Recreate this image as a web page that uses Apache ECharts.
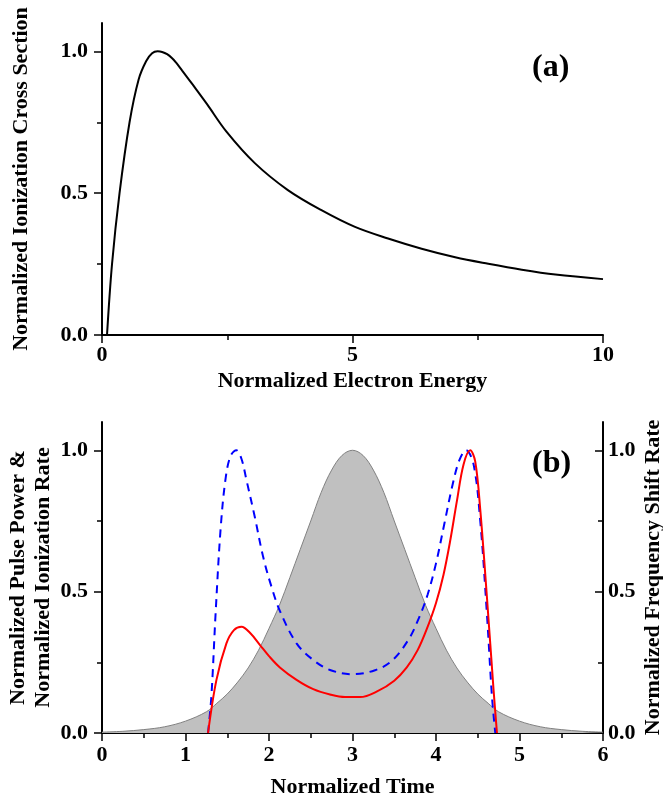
<!DOCTYPE html>
<html>
<head>
<meta charset="utf-8">
<script src="https://cdn.jsdelivr.net/npm/echarts@6/dist/echarts.min.js"></script>
<style>
html, body { margin: 0; padding: 0; background: #fff; }
#main { width: 663px; height: 802px; }
</style>
</head>
<body>
<div id="main"></div>
<script>
// (a) 归一化电离截面 —— 点
var energy = [0.1, 0.2, 0.35, 0.55, 0.73, 0.88, 1.0, 1.11, 1.2, 1.3, 1.4, 1.48, 1.6, 1.75, 1.88, 2.1, 2.48, 3.05, 3.71, 4.38, 5.05, 5.71, 6.38, 7.05, 7.71, 8.38, 9.05, 10];
var crossSection = [0, 0.25, 0.5, 0.75, 0.9, 0.965, 0.993, 1.0, 0.998, 0.99, 0.976, 0.96, 0.932, 0.897, 0.866, 0.813, 0.718, 0.606, 0.511, 0.44, 0.381, 0.34, 0.304, 0.274, 0.251, 0.23, 0.213, 0.197];

// (b) 脉冲功率（灰色面积）
var timePulse = [0, 0.25, 0.5, 0.75, 1, 1.25, 1.375, 1.5, 1.625, 1.75, 1.875, 2, 2.125, 2.25, 2.375, 2.5, 2.625, 2.75, 2.875, 3,
                 3.125, 3.25, 3.375, 3.5, 3.625, 3.75, 3.875, 4, 4.125, 4.25, 4.375, 4.5, 4.625, 4.75, 5, 5.25, 5.5, 5.75, 6];
var pulsePower = [0.003, 0.006, 0.012, 0.022, 0.042, 0.075, 0.105, 0.138, 0.18, 0.23, 0.293, 0.37, 0.452, 0.55, 0.65, 0.75, 0.851, 0.93, 0.982, 1.0,
                  0.982, 0.93, 0.851, 0.75, 0.65, 0.55, 0.452, 0.37, 0.293, 0.23, 0.18, 0.138, 0.105, 0.075, 0.042, 0.022, 0.012, 0.006, 0.003];

// 电离速率（红色实线，左轴）
var timeIon = [1.27, 1.37, 1.49, 1.58, 1.67, 1.78, 1.89, 2.0, 2.13, 2.33, 2.53, 2.73, 2.91, 3.09, 3.3, 3.5, 3.65, 3.78, 3.89, 4.0, 4.09, 4.17, 4.25, 4.33, 4.41, 4.47, 4.53, 4.61, 4.69, 4.73];
var ionRate = [0, 0.187, 0.317, 0.364, 0.376, 0.352, 0.312, 0.272, 0.232, 0.188, 0.155, 0.136, 0.127, 0.127, 0.148, 0.185, 0.232, 0.293, 0.368, 0.46, 0.56, 0.68, 0.82, 0.95, 1.0, 0.96, 0.79, 0.48, 0.15, 0];

// 频移速率（蓝色虚线，右轴）
var timeShift = [1.27, 1.31, 1.36, 1.42, 1.48, 1.54, 1.61, 1.67, 1.73, 1.83, 1.93, 2.03, 2.13, 2.33, 2.53, 2.73, 3.0, 3.27, 3.47, 3.67, 3.8, 3.9, 4.0, 4.1, 4.2, 4.28, 4.36, 4.45, 4.53, 4.61, 4.67, 4.71];
var shiftRate = [0, 0.13, 0.42, 0.72, 0.9, 0.98, 1.0, 0.97, 0.895, 0.764, 0.623, 0.517, 0.432, 0.317, 0.258, 0.223, 0.208, 0.222, 0.255, 0.33, 0.41, 0.49, 0.6, 0.74, 0.88, 0.965, 1.0, 0.95, 0.75, 0.42, 0.13, 0];

var yMajor = [0, 0.5, 1.0];
var yMinor = [0.25, 0.75];

function pairs(xs, ys) {
    return xs.map(function (x, i) { return [x, ys[i]]; });
}

var FONT = '"Liberation Serif", "Times New Roman", serif';
var black = { color: '#000', width: 2 };

function labelStyle(extra) {
    var s = { color: '#000', fontFamily: FONT, fontWeight: 'bold', fontSize: 22 };
    for (var k in extra) s[k] = extra[k];
    return s;
}

function xAxis(grid, max, interval, name, gap, margin) {
    return {
        gridIndex: grid, type: 'value', min: 0, max: max, interval: interval,
        axisLine: { lineStyle: black },
        axisTick: { length: 8, lineStyle: { color: '#000', width: 1.5 } },
        minorTick: { show: true, splitNumber: 2, length: 5, lineStyle: { color: '#000', width: 1.5 } },
        splitLine: { show: false },
        axisLabel: labelStyle({ margin: margin }),
        name: name, nameLocation: 'middle', nameGap: gap, nameMoveOverlap: false,
        nameTextStyle: labelStyle({})
    };
}

function yMain(grid, pos, name, gap, inside, margin) {
    return {
        gridIndex: grid, type: 'value', position: pos, min: 0, max: 1.1,
        axisLine: { show: true, onZero: false, lineStyle: black },
        axisTick: { customValues: yMajor, inside: inside, length: 8, lineStyle: { color: '#000', width: 1.5 } },
        axisLabel: labelStyle({ customValues: yMajor, margin: margin, formatter: function (v) { return v.toFixed(1); } }),
        splitLine: { show: false },
        name: name, nameLocation: 'middle', nameGap: gap, nameRotate: 90, nameMoveOverlap: false,
        nameTextStyle: labelStyle({ lineHeight: 25 })
    };
}

// 次刻度单独用一根不画轴线的轴
function yMinorAxis(grid, pos, inside) {
    return {
        gridIndex: grid, type: 'value', position: pos, min: 0, max: 1.1,
        axisLine: { show: false, onZero: false },
        axisTick: { customValues: yMinor, inside: inside, length: 5, lineStyle: { color: '#000', width: 1.5 } },
        axisLabel: { show: false },
        splitLine: { show: false }
    };
}

var chart = echarts.init(document.getElementById('main'));

var option = {
    animation: false,
    backgroundColor: '#fff',
    grid: [
        { left: 102, right: 60, top: 23, height: 312, outerBoundsMode: 'none' },
        { left: 102, right: 60, top: 422, height: 311, outerBoundsMode: 'none' }
    ],
    xAxis: [
        xAxis(0, 10, 5, 'Normalized Electron Energy', 35, 9),
        xAxis(1, 6, 1, 'Normalized Time', 43, 11)
    ],
    yAxis: [
        yMain(0, 'left', 'Normalized Ionization Cross Section', 68, false, 14),
        yMinorAxis(0, 'left', false),
        yMain(1, 'left', 'Normalized Pulse Power &\nNormalized Ionization Rate', 46, false, 14),
        yMinorAxis(1, 'left', false),
        yMain(1, 'right', 'Normalized Frequency Shift Rate', 38, true, 5),
        yMinorAxis(1, 'right', true)
    ],
    series: [
        {
            type: 'line', xAxisIndex: 0, yAxisIndex: 0,
            data: pairs(energy, crossSection),
            smooth: 0.35, symbol: 'none',
            lineStyle: { color: '#000', width: 2 }
        },
        {
            type: 'line', xAxisIndex: 1, yAxisIndex: 2,
            data: pairs(timePulse, pulsePower),
            smooth: 0.35, symbol: 'none',
            lineStyle: { color: '#808080', width: 1 },
            areaStyle: { color: '#c0c0c0', opacity: 1 }
        },
        {
            type: 'line', xAxisIndex: 1, yAxisIndex: 4,
            data: pairs(timeShift, shiftRate),
            smooth: 0.35, symbol: 'none',
            lineStyle: { color: '#0000ff', width: 2, type: [8, 6] }
        },
        {
            type: 'line', xAxisIndex: 1, yAxisIndex: 2,
            data: pairs(timeIon, ionRate),
            smooth: 0.35, symbol: 'none',
            lineStyle: { color: '#ff0000', width: 2 }
        }
    ],
    graphic: [
        { type: 'text', left: 532, top: 52, style: { text: '(a)', font: 'bold 32px ' + FONT, fill: '#000' } },
        { type: 'text', left: 532, top: 448, style: { text: '(b)', font: 'bold 32px ' + FONT, fill: '#000' } }
    ]
};

chart.setOption(option);
</script>
</body>
</html>
